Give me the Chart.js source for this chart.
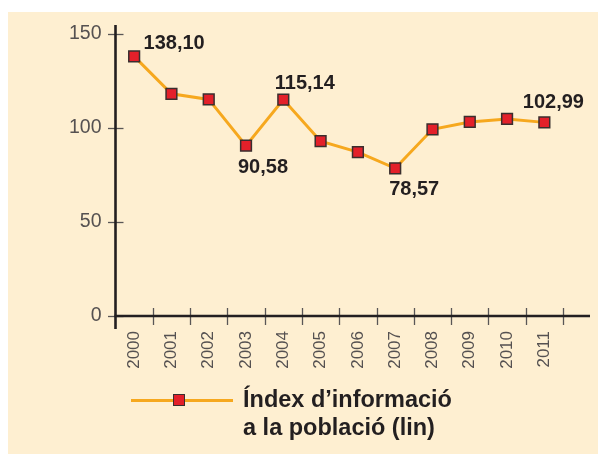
<!DOCTYPE html>
<html>
<head>
<meta charset="utf-8">
<script src="https://cdn.jsdelivr.net/npm/chart.js@4/dist/chart.umd.min.js"></script>
<style>
  html, body { margin: 0; padding: 0; background: #ffffff; }
  #wrap { position: relative; width: 598px; height: 454px; overflow: hidden; }
  #bg { position: absolute; left: 8px; top: 12px; right: 0; bottom: 0; background: #FEEFD1; }
  #c { position: absolute; left: 0; top: 0; }
  #legend { position: absolute; left: 0; top: 0; width: 598px; height: 454px; pointer-events: none;
            font-family: "Liberation Sans", Arial, sans-serif; }
  #lg-line { position: absolute; left: 131px; top: 398.5px; width: 102px; height: 3px; background: #F6A81E; }
  #lg-mark { position: absolute; left: 173px; top: 394px; width: 10px; height: 10px; background: #E3202A; border: 1.5px solid #3a2e2e; }
  #lg-text { position: absolute; left: 243px; top: 385px; font-size: 23.5px; font-weight: bold; line-height: 28px; color: #231f20; white-space: nowrap; }
</style>
</head>
<body>
<div id="wrap">
  <div id="bg"></div>
  <canvas id="c" width="598" height="454"></canvas>
  <div id="legend">
    <div id="lg-line"></div>
    <div id="lg-mark"></div>
    <div id="lg-text"></div>
  </div>
</div>
<script>
// ---- data ----
const years = ['2000','2001','2002','2003','2004','2005','2006','2007','2008','2009','2010','2011'];
const indexValues = [138.10, 118.2, 115.2, 90.58, 115.14, 93.0, 87.2, 78.57, 99.3, 103.2, 104.8, 102.99];
const labeledPoints = [0, 3, 4, 7, 11];
const yTickValues = [0, 50, 100, 150];
const seriesLabelLines = ['Índex d’informació', 'a la població (lin)'];

// ---- styling for value labels (offsets in px from the point) ----
const valueLabelOffsets = { 0: [40, -12.5], 3: [17, 21.5], 4: [21.5, -16.5], 7: [19, 21.5], 11: [9, -19.5] };

const axesPlugin = {
  id: 'crossAxes',
  beforeDatasetsDraw(chart) {
    const ctx = chart.ctx;
    const x = chart.scales.x, y = chart.scales.y;
    const x0 = chart.chartArea.left, yb = y.getPixelForValue(0);
    ctx.save();
    ctx.strokeStyle = '#5a5656';
    ctx.lineWidth = 1.3;
    yTickValues.forEach(v => {
      const py = Math.round(y.getPixelForValue(v)) + 0.5;
      ctx.beginPath(); ctx.moveTo(x0 - 7.5, py); ctx.lineTo(x0 + 8, py); ctx.stroke();
    });
    const half = (x.getPixelForValue(1) - x.getPixelForValue(0)) / 2;
    for (let i = 0; i < years.length; i++) {
      const px = Math.round(x.getPixelForValue(i) + half) + 0.5;
      ctx.beginPath(); ctx.moveTo(px, yb - 8); ctx.lineTo(px, yb + 9); ctx.stroke();
    }
    ctx.strokeStyle = '#231f20';
    ctx.lineWidth = 2.6;
    ctx.beginPath(); ctx.moveTo(x0, y.getPixelForValue(150) - 9); ctx.lineTo(x0, yb + 13); ctx.stroke();
    ctx.beginPath(); ctx.moveTo(x0 - 1, yb); ctx.lineTo(chart.chartArea.right + 27, yb); ctx.stroke();
    ctx.restore();
  }
};

const valueLabelPlugin = {
  id: 'valueLabels',
  afterDatasetsDraw(chart) {
    const ctx = chart.ctx;
    const meta = chart.getDatasetMeta(0);
    ctx.save();
    ctx.font = 'bold 20px "Liberation Sans", Arial, sans-serif';
    ctx.fillStyle = '#231f20';
    ctx.textAlign = 'center';
    ctx.textBaseline = 'middle';
    labeledPoints.forEach(i => {
      const pt = meta.data[i];
      const off = valueLabelOffsets[i];
      const txt = indexValues[i].toFixed(2).replace('.', ',');
      ctx.fillText(txt, pt.x + off[0], pt.y + off[1]);
    });
    ctx.restore();
  }
};

const chart = new Chart(document.getElementById('c'), {
  type: 'line',
  data: {
    labels: years,
    datasets: [{
      label: seriesLabelLines.join(' '),
      data: indexValues,
      borderColor: '#F6A81E',
      borderWidth: 3,
      tension: 0,
      pointStyle: 'rect',
      pointRadius: 7.6,
      pointBackgroundColor: '#E3202A',
      pointBorderColor: '#3a2e2e',
      pointBorderWidth: 1.5,
      clip: false
    }]
  },
  options: {
    responsive: false,
    animation: false,
    devicePixelRatio: 1,
    layout: { padding: { top: 34, right: 35, left: 0, bottom: 0 } },
    plugins: { legend: { display: false }, tooltip: { enabled: false } },
    scales: {
      x: {
        type: 'category',
        offset: true,
        grid: { display: false, drawTicks: false },
        border: { display: false },
        ticks: {
          autoSkip: false, maxRotation: 90, minRotation: 90, padding: 15,
          color: '#555151', font: { family: '"Liberation Sans", Arial, sans-serif', size: 17 }
        },
        afterFit(s) { s.height = 138; }
      },
      y: {
        min: 0, max: 150,
        grid: { display: false, drawTicks: false },
        border: { display: false },
        afterBuildTicks(s) { s.ticks = yTickValues.map(v => ({ value: v })); },
        ticks: {
          padding: 14,
          color: '#555151', font: { family: '"Liberation Sans", Arial, sans-serif', size: 19.5 }
        },
        afterFit(s) { s.width = 115.5; }
      }
    }
  },
  plugins: [axesPlugin, valueLabelPlugin]
});

document.getElementById('lg-text').innerHTML = seriesLabelLines.join('<br>');
</script>
</body>
</html>
